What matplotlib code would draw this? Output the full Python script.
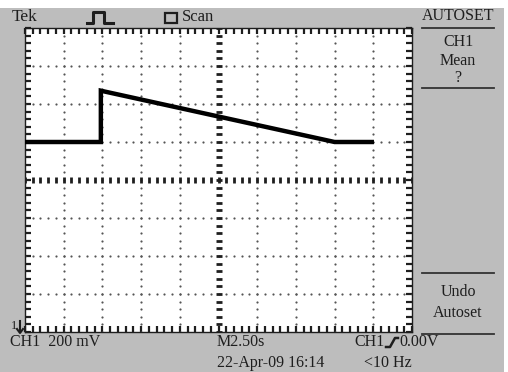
import numpy as np
import matplotlib
matplotlib.use("Agg")
import matplotlib.pyplot as plt
from matplotlib.lines import Line2D
from matplotlib.patches import Rectangle

# ---- data (time in s, voltage in V) ----
time_s = [0.13, 4.9, 4.9, 20.0, 22.4]
volts = [1.0, 1.0, 1.27, 1.0, 1.0]
sec_per_div = 2.5
volt_per_div = 0.2
n_xdiv = 10
n_ydiv = 8

top_labels = ["Tek", "Scan"]
menu_labels = ["AUTOSET", "CH1", "Mean", "?", "Undo", "Autoset"]
bottom_labels = ["CH1  200 mV", "M2.50s", "CH1", "0.00V", "22-Apr-09 16:14", "<10 Hz"]

W, H = 508, 372
GRAY = "#bdbdbd"
INK = "#1e1e1e"
plt.rcParams['font.family'] = ['Liberation Serif', 'DejaVu Serif']

fig = plt.figure(figsize=(W / 100, H / 100), dpi=100, facecolor=GRAY)

def fx(x):
    return x / W

def fy(y):
    return 1 - y / H

# white margins (top, right)
fig.patches.append(Rectangle((0, fy(8)), 1, 8 / H, transform=fig.transFigure,
                             facecolor="white", edgecolor="none", zorder=0))
fig.patches.append(Rectangle((fx(504), 0), 4 / W, 1, transform=fig.transFigure,
                             facecolor="white", edgecolor="none", zorder=0))

# screen axes
L, R, T, B = 25, 412, 28, 332
ax = fig.add_axes([fx(L), fy(B), (R - L) / W, (B - T) / H])
ax.set_facecolor("white")
xmax = n_xdiv * sec_per_div
ymax = n_ydiv * volt_per_div
ax.set_xlim(0, xmax)
ax.set_ylim(0, ymax)
for s in ax.spines.values():
    s.set_linewidth(1.0)
    s.set_color(INK)

ax.set_xticks(np.arange(0, xmax + 1e-9, sec_per_div))
ax.set_xticks(np.arange(0, xmax + 1e-9, sec_per_div / 5), minor=True)
ax.set_yticks(np.arange(0, ymax + 1e-9, volt_per_div))
ax.set_yticks(np.arange(0, ymax + 1e-9, volt_per_div / 5), minor=True)
ax.tick_params(which="both", direction="in", top=True, right=True,
               labelbottom=False, labelleft=False, color=INK)
ax.tick_params(which="major", length=4, width=1.6)
ax.tick_params(which="minor", length=4, width=1.6)

# dotted graticule
sub_x = np.arange(0, xmax + 1e-9, sec_per_div / 5)
sub_y = np.arange(0, ymax + 1e-9, volt_per_div / 5)
for i in range(1, n_xdiv):
    if i == n_xdiv // 2:
        continue
    xv = i * sec_per_div
    ax.scatter(np.full_like(sub_y, xv), sub_y, s=2.5, color="#555555", lw=0, zorder=2)
for j in range(1, n_ydiv):
    if j == n_ydiv // 2:
        continue
    yv = j * volt_per_div
    ax.scatter(sub_x, np.full_like(sub_x, yv), s=2.5, color="#555555", lw=0, zorder=2)
# center cross
cx, cy = xmax / 2, ymax / 2
ax.plot(sub_x, np.full_like(sub_x, cy), ls="none", marker="|", ms=5, mew=2, color=INK, zorder=2)
ax.plot(np.full_like(sub_y, cx), sub_y, ls="none", marker="_", ms=5, mew=2, color=INK, zorder=2)

# trace
ax.plot(time_s, volts, color="black", lw=3.2, solid_joinstyle="miter", zorder=3)

# ---- top bar ----
fs = 11.5
fig.text(fx(12), fy(17), top_labels[0], fontsize=12.5, color=INK, va="center", ha="left")
px = [87, 93, 93, 104, 104, 113]
py = [23, 23, 12, 12, 23, 23]
fig.lines.append(Line2D([fx(v) for v in px], [fy(v) for v in py], transform=fig.transFigure,
                        color=INK, lw=2.2))
fig.patches.append(Rectangle((fx(165), fy(23)), 12 / W, 10 / H, transform=fig.transFigure,
                             facecolor="none", edgecolor=INK, lw=1.6))
fig.text(fx(182), fy(17), top_labels[1], fontsize=12, color=INK, va="center", ha="left")

# ---- right menu ----
mx = 458
fig.text(fx(mx), fy(16), menu_labels[0], fontsize=fs, color=INK, va="center", ha="center")
fig.text(fx(mx), fy(42), menu_labels[1], fontsize=fs, color=INK, va="center", ha="center")
fig.text(fx(mx), fy(61), menu_labels[2], fontsize=fs, color=INK, va="center", ha="center")
fig.text(fx(mx), fy(78), menu_labels[3], fontsize=fs, color=INK, va="center", ha="center")
fig.text(fx(mx), fy(292), menu_labels[4], fontsize=fs, color=INK, va="center", ha="center")
fig.text(fx(mx), fy(313), menu_labels[5], fontsize=fs, color=INK, va="center", ha="center")
for ly in [28, 88, 273, 334]:
    fig.lines.append(Line2D([fx(422), fx(494)], [fy(ly), fy(ly)], transform=fig.transFigure,
                            color="#333333", lw=1.3))

# ---- bottom ----
fig.text(fx(10), fy(342), bottom_labels[0], fontsize=fs, color=INK, va="center", ha="left")
fig.text(fx(217), fy(342), bottom_labels[1], fontsize=fs, color=INK, va="center", ha="left")
fig.text(fx(385), fy(342), bottom_labels[2], fontsize=fs, color=INK, va="center", ha="right")
tx = [386, 390, 395, 398]
ty = [347, 347, 338, 338]
fig.lines.append(Line2D([fx(v) for v in tx], [fy(v) for v in ty], transform=fig.transFigure,
                        color=INK, lw=1.8))
fig.text(fx(399), fy(342), bottom_labels[3], fontsize=fs, color=INK, va="center", ha="left")
fig.text(fx(217), fy(363), bottom_labels[4], fontsize=fs, color=INK, va="center", ha="left")
fig.text(fx(364), fy(363), bottom_labels[5], fontsize=fs, color=INK, va="center", ha="left")

# ground marker "1" with arrow
fig.text(fx(11), fy(326), "1", fontsize=9, color=INK, va="center", ha="left")
fig.lines.append(Line2D([fx(20), fx(20)], [fy(321), fy(332)], transform=fig.transFigure,
                        color=INK, lw=1.5))
fig.lines.append(Line2D([fx(17), fx(20), fx(23)], [fy(329), fy(333), fy(329)],
                        transform=fig.transFigure, color=INK, lw=1.5))

fig.savefig("out.png", dpi=100, facecolor=GRAY)
